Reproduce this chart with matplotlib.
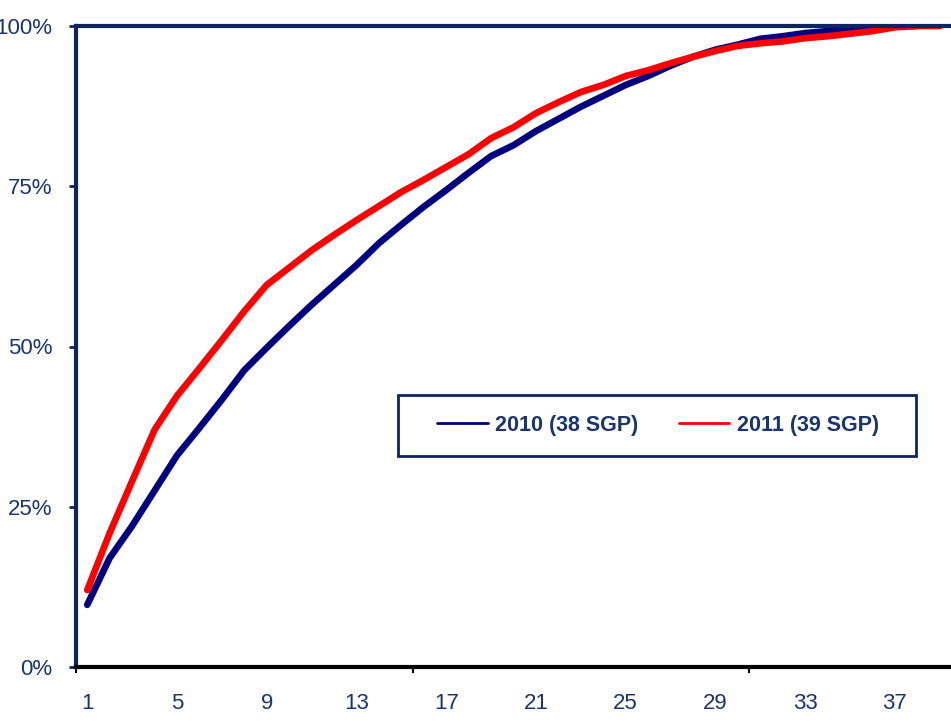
import matplotlib
matplotlib.use('Agg')
import matplotlib.pyplot as plt
from matplotlib.patches import Rectangle
from matplotlib.ticker import FuncFormatter, FixedLocator

plt.rcParams['font.family'] = ['Liberation Sans', 'DejaVu Sans']

# cumulative share, 2010 (38 SGP) and 2011 (39 SGP)
sgp_2010 = [9.7, 17.0, 22.0, 27.5, 33.0, 37.3, 41.7, 46.3, 49.8, 53.2,
            56.5, 59.6, 62.7, 66.1, 69.0, 71.8, 74.4, 77.1, 79.7, 81.4,
            83.6, 85.5, 87.4, 89.1, 90.8, 92.2, 93.8, 95.2, 96.3, 97.1,
            98.0, 98.4, 98.9, 99.2, 99.5, 99.8, 100.0, 100.0]
sgp_2011 = [12.0, 20.9, 29.0, 37.0, 42.3, 46.6, 51.0, 55.5, 59.6, 62.3,
            65.0, 67.4, 69.7, 71.9, 74.1, 76.0, 78.0, 80.0, 82.5, 84.2,
            86.4, 88.1, 89.7, 90.8, 92.2, 93.1, 94.2, 95.2, 96.1, 96.9,
            97.3, 97.6, 98.1, 98.4, 98.8, 99.2, 99.8, 100.0, 100.0]
labels = ['2010 (38 SGP)', '2011 (39 SGP)']
xticks = [1, 5, 9, 13, 17, 21, 25, 29, 33, 37]
yticks = [0, 25, 50, 75, 100]

navy = '#0d2460'
txt = '#1a3470'
W, H = 951.0, 721.0

fig = plt.figure(figsize=(9.51, 7.21), dpi=100)
ax = fig.add_axes([76 / W, 1 - 667 / H, 1 - 76 / W, (667 - 26) / H])

x10 = list(range(1, len(sgp_2010) + 1))
x11 = list(range(1, len(sgp_2011) + 1))
l1, = ax.plot(x10, sgp_2010, color='#000080', lw=4.8, solid_capstyle='round',
              solid_joinstyle='round', label=labels[0])
l2, = ax.plot(x11, sgp_2011, color='#ff0000', lw=4.8, solid_capstyle='round',
              solid_joinstyle='round', label=labels[1])

ax.set_xlim(0.5, 39.5)
ax.set_ylim(0, 100)

ax.set_yticks(yticks)
ax.yaxis.set_major_formatter(FuncFormatter(lambda v, p: '%d%%' % v))
ax.set_xticks(xticks)
ax.xaxis.set_minor_locator(FixedLocator([0.5, 15.5, 30.5]))
ax.tick_params(axis='x', which='major', length=0, pad=19, labelsize=16, labelcolor=txt)
ax.tick_params(axis='x', which='minor', length=4, width=1.5, color='black')
ax.tick_params(axis='y', length=5, width=2, color=navy, pad=12, labelsize=16, labelcolor=txt)

ax.spines['left'].set_color(navy)
ax.spines['left'].set_linewidth(3)
ax.spines['top'].set_color(navy)
ax.spines['top'].set_linewidth(3)
ax.spines['bottom'].set_color('black')
ax.spines['bottom'].set_linewidth(3)
ax.spines['right'].set_visible(False)

# legend box drawn separately so its padding can follow the original
fig.patches.append(Rectangle((398 / W, 1 - 456 / H), (916 - 398) / W, (456 - 395) / H,
                             transform=fig.transFigure, fill=False,
                             edgecolor=navy, lw=2))
leg = fig.legend(handles=[l1, l2], loc='center left',
                 bbox_to_anchor=(437 / W, 1 - 425.5 / H),
                 ncol=2, frameon=False, borderpad=0, borderaxespad=0,
                 handlelength=2.35, handletextpad=0.33, columnspacing=1.9,
                 prop={'weight': 'bold', 'size': 15.5})
for line in leg.get_lines():
    line.set_linewidth(2)
for t in leg.get_texts():
    t.set_color(txt)

fig.savefig('out.png', dpi=100)
